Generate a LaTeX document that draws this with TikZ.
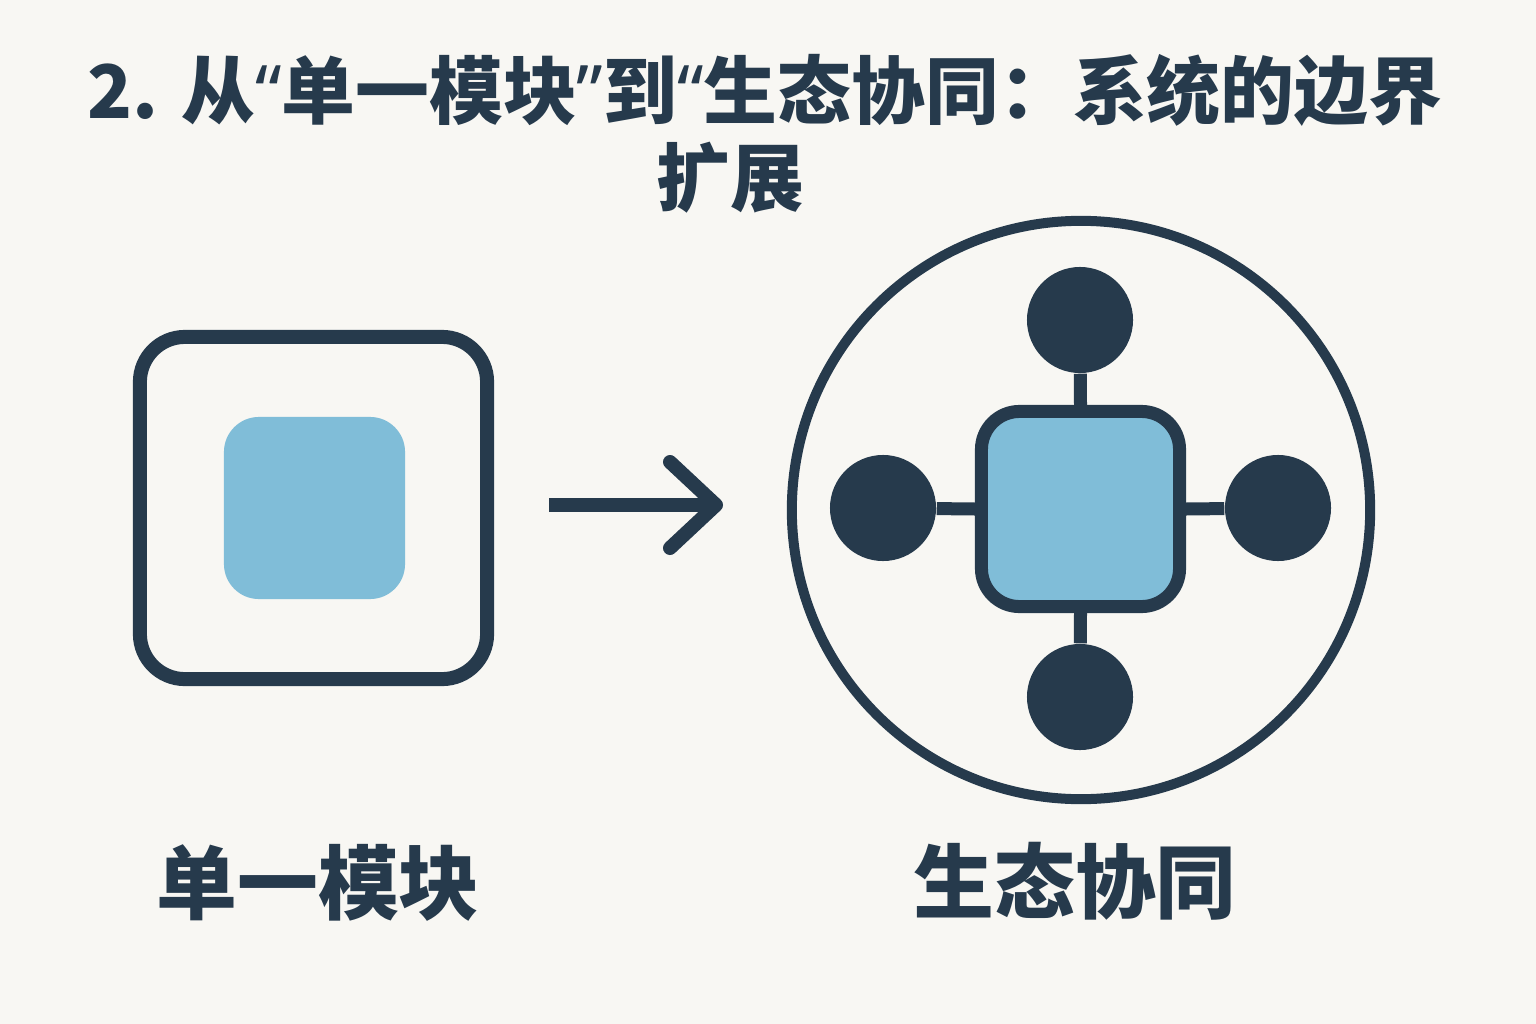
\documentclass[tikz,border=0pt]{standalone}
\usepackage{fontspec}
\newfontfamily\cjk{Noto Sans CJK SC}
\newfontfamily\latin{Noto Sans}
\newcommand{\oquote}{{\latin\bfseries “}}
\newcommand{\cquote}{{\latin\bfseries ”}}
\usetikzlibrary{positioning}
\definecolor{navy}{HTML}{263A4C}
\definecolor{skyblue}{HTML}{80BDD8}
\definecolor{paper}{HTML}{F8F7F3}
\tikzset{
  frame/.style={draw=navy, line width=14*0.2845pt, rectangle, rounded corners=0.45cm, inner sep=0pt},
  core/.style={fill=skyblue, rectangle, rounded corners=0.35cm, inner sep=0pt},
  sat/.style={fill=navy, circle, minimum size=1.06cm, inner sep=0pt},
  link/.style={draw=navy, line width=13*0.2845pt},
  heading/.style={text=navy, font=\cjk\bfseries\fontsize{21}{24}\selectfont},
  label/.style={text=navy, font=\cjk\bfseries\fontsize{23}{28}\selectfont}
}
\begin{document}
\begin{tikzpicture}[x=0.01cm, y=-0.01cm]
  \fill[paper] (0,0) rectangle (1536,1024);
  \useasboundingbox (0,0) rectangle (1536,1024);
  % title
  \node (t1) [heading] at (765,90) {2. 从\oquote 单一模块\cquote 到\oquote 生态协同：系统的边界};
  \node (t2) [heading] at (730,178) {扩展};
  % single module
  \node (box) [frame, minimum width=3.47cm, minimum height=3.42cm] at (313.5,508) {};
  \node (mod) [core, minimum width=1.81cm, minimum height=1.82cm] at (314.5,508) {};
  % arrow
  \coordinate (a0) at (549,505);
  \coordinate (a1) at (716,505);
  \draw[navy, line width=14*0.2845pt] (a0) -- (a1);
  \draw[navy, line width=14*0.2845pt, line cap=round, line join=round] (a1) ++(-46,-43) -- (a1) -- ++(-46,43);
  % ecosystem
  \node (eco) [draw=navy, line width=10*0.2845pt, circle, minimum size=5.78cm, inner sep=0pt] at (1081,510) {};
  \node (hub) [frame, fill=skyblue, draw=navy, line width=13*0.2845pt, rounded corners=0.38cm, minimum width=1.98cm, minimum height=1.95cm] at (1080.5,509) {};
  \node (n1) [sat] at (1080,320) {};
  \node (n2) [sat] at (1278,508) {};
  \node (n3) [sat] at (1080,697) {};
  \node (n4) [sat] at (883,508) {};
  \draw[link] (hub.north) -- (n1);
  \draw[link] (hub.east) -- (n2);
  \draw[link] (hub.south) -- (n3);
  \draw[link] (hub.west) -- (n4);
  % labels
  \node (l1) [label] at (318,883) {单一模块};
  \node (l2) [label] at (1075,881) {生态协同};
\end{tikzpicture}
\end{document}
